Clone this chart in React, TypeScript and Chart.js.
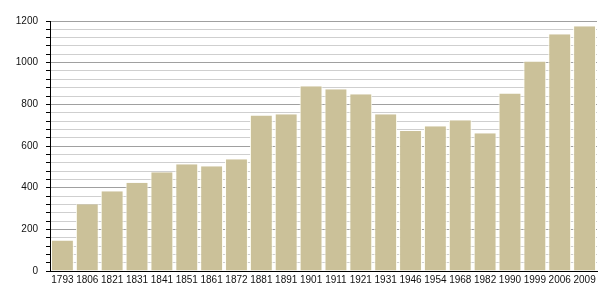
import React, { useEffect, useRef } from "react";
import { Chart, registerables } from "chart.js";

Chart.register(...registerables);

const years = ["1793","1806","1821","1831","1841","1851","1861","1872","1881","1891","1901","1911","1921","1931","1946","1954","1968","1982","1990","1999","2006","2009"];
const population = [147,320,383,424,474,512,503,536,747,752,887,872,848,752,672,695,724,661,852,1006,1136,1175];
const yTicks = [0, 200, 400, 600, 800, 1000, 1200];

export default function App() {
  const ref = useRef<HTMLCanvasElement | null>(null);
  useEffect(() => {
    if (!ref.current) return;
    const chart = new Chart(ref.current, {
      type: "bar",
      data: {
        labels: years,
        datasets: [{
          data: population,
          backgroundColor: "rgb(203,193,153)",
          borderColor: "#fffff6",
          borderWidth: { left: 1, right: 1, top: 0, bottom: 0 },
          borderSkipped: false,
          categoryPercentage: 1,
          barPercentage: 0.92,
        }],
      },
      options: {
        responsive: false,
        animation: false,
        layout: { padding: { top: 21, right: 8, left: 0, bottom: 0 } },
        plugins: { legend: { display: false }, tooltip: { enabled: false } },
        scales: {
          x: {
            grid: { display: false, drawTicks: false },
            border: { display: true, color: "#000", width: 1 },
            ticks: {
              autoSkip: false, maxRotation: 0, minRotation: 0, padding: 3,
              color: "#111",
              font: { family: "'Liberation Sans', Arial, sans-serif", size: 10 },
            },
            afterFit: (s: any) => { s.height = 29; },
          },
          y: {
            min: 0, max: 1200,
            grid: {
              color: (ctx: any) => (ctx.tick && ctx.tick.value % 200 === 0 ? "#a0a0a0" : "#cfcfcf"),
              tickColor: "#000",
              tickLength: 4,
              drawTicks: true,
            },
            border: { display: true, color: "#000", width: 1 },
            ticks: {
              stepSize: 40,
              autoSkip: false,
              padding: 8,
              color: "#111",
              font: { family: "'Liberation Sans', Arial, sans-serif", size: 10 },
              callback: (v: any) => (yTicks.includes(Number(v)) ? String(v) : ""),
            },
            afterFit: (s: any) => { s.width = 50; },
          },
        },
      },
    });
    return () => chart.destroy();
  }, []);
  return (
    <div style={{ position: "absolute", left: 0, top: 0, width: 605, height: 300, background: "#fff" }}>
      <canvas ref={ref} width={605} height={300} />
    </div>
  );
}
